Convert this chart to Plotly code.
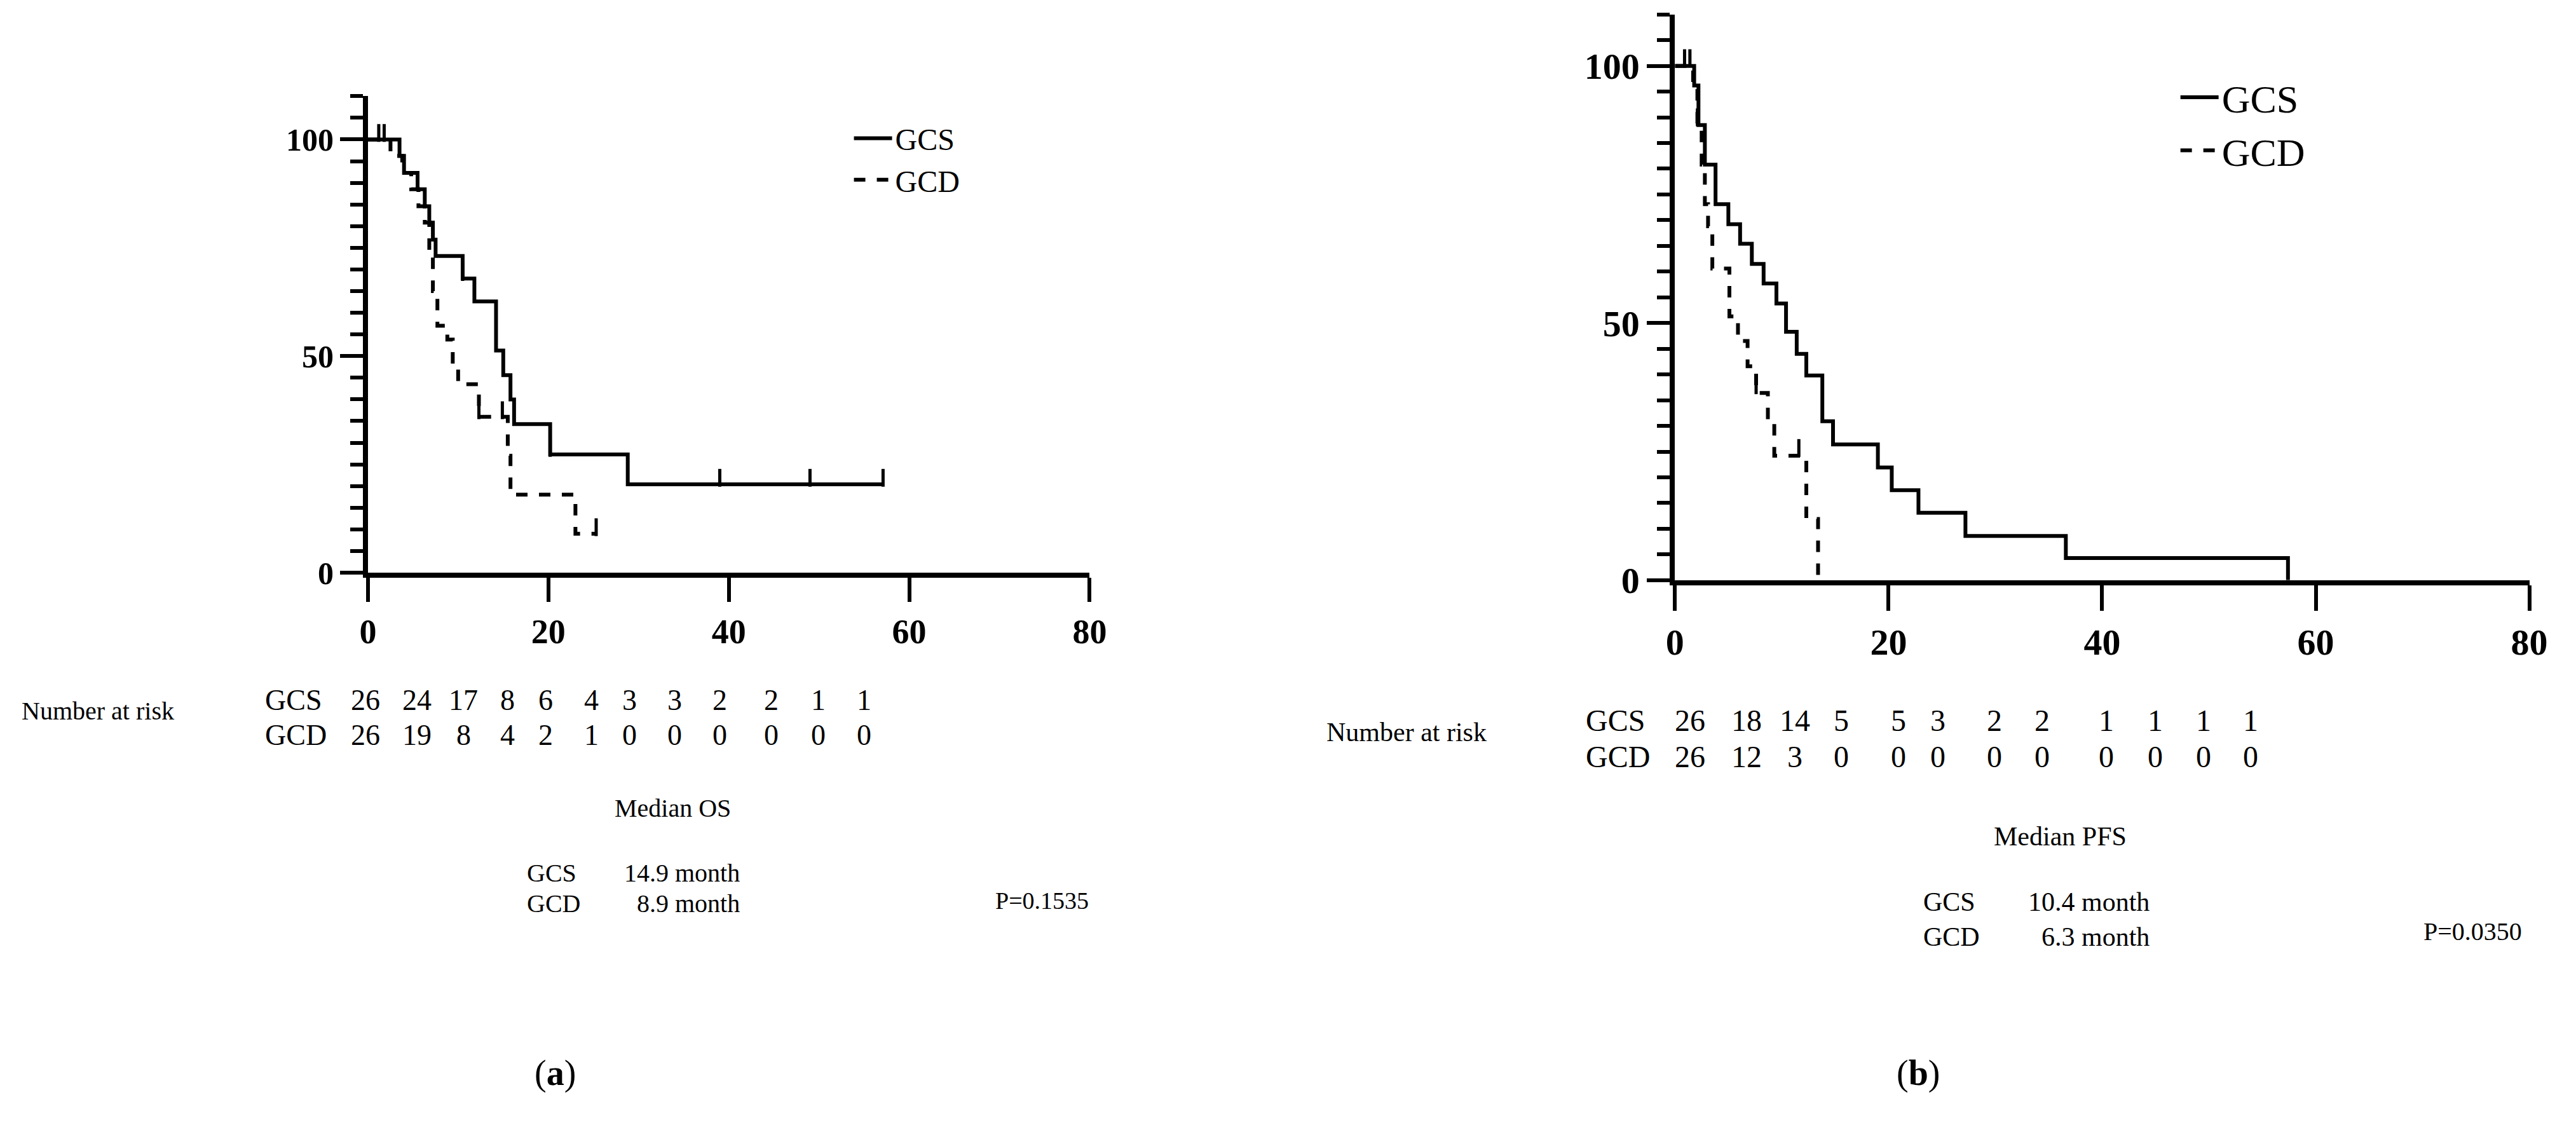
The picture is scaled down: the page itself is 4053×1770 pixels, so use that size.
import plotly.graph_objects as go

# panel (a) overall survival, step points (month, %)
os_gcs_t = [0, 3.5, 4.0, 5.5, 6.3, 6.8, 7.2, 7.5, 10.5, 11.8, 14.2, 15.0, 15.8, 16.2, 20.2, 28.8, 57.1]
os_gcs_s = [100, 96.2, 92.3, 88.5, 84.6, 80.8, 76.9, 73.1, 67.9, 62.6, 51.3, 45.6, 40.0, 34.3, 27.3, 20.4, 20.4]
os_gcd_t = [0, 2.5, 3.8, 4.8, 5.6, 6.3, 6.8, 7.2, 7.7, 8.8, 9.4, 10.0, 12.3, 15.5, 15.8, 23.0, 25.3]
os_gcd_s = [100, 96.2, 92.3, 88.5, 84.6, 80.8, 73.1, 65.0, 57.0, 53.8, 48.0, 43.5, 36.0, 27.0, 18.0, 9.0, 9.0]
os_gcs_cens = [1.2, 10.5, 20.2, 39, 49, 57.1]
os_gcd_cens = [1.8, 12.3, 14.9, 25.3]

# panel (b) progression-free survival
pfs_gcs_t = [0, 1.8, 2.2, 2.8, 3.8, 5.0, 6.1, 7.2, 8.3, 9.5, 10.4, 11.4, 12.3, 13.8, 14.8, 19.0, 20.3, 22.8, 27.2, 36.6, 57.4]
pfs_gcs_s = [100, 96.2, 88.5, 80.8, 73.1, 69.2, 65.4, 61.5, 57.7, 53.8, 48.3, 44.0, 39.8, 30.9, 26.4, 21.9, 17.5, 13.1, 8.6, 4.3, 0]
pfs_gcd_t = [0, 1.7, 2.1, 2.5, 2.8, 3.1, 3.5, 5.1, 5.9, 6.8, 7.6, 8.7, 9.3, 12.3, 13.4]
pfs_gcd_s = [100, 96.2, 88.5, 80.8, 73.1, 68.8, 60.6, 51.3, 46.5, 41.6, 36.4, 30.9, 24.2, 11.9, 0]
pfs_gcs_cens = [0.9, 1.4, 7.2, 9.5]
pfs_gcd_cens = [2.1, 7.6, 11.6]

# number at risk tables (label positions in months)
os_risk_x = [-0.3, 5.4, 10.6, 15.5, 19.7, 24.8, 29.0, 34.0, 39.0, 44.7, 49.9, 55.0]
os_risk_gcs = [26, 24, 17, 8, 6, 4, 3, 3, 2, 2, 1, 1]
os_risk_gcd = [26, 19, 8, 4, 2, 1, 0, 0, 0, 0, 0, 0]
pfs_risk_x = [1.4, 6.7, 11.2, 15.6, 20.9, 24.6, 29.9, 34.4, 40.4, 45.0, 49.5, 53.9]
pfs_risk_gcs = [26, 18, 14, 5, 5, 3, 2, 2, 1, 1, 1, 1]
pfs_risk_gcd = [26, 12, 3, 0, 0, 0, 0, 0, 0, 0, 0, 0]

W, H = 4053, 1770
SERIF = "Liberation Serif"
A_X0, A_X1 = 562, 1710
B_X0, B_X1 = 2641, 4000


def step_at(ts, ss, x):
    val = ss[0]
    for t, s in zip(ts, ss):
        if t <= x:
            val = s
    return val


def px(x):
    return x / W


def py(y):
    return 1 - y / H


fig = go.Figure()

panels = [
    ("x", "y", "legend", os_gcs_t, os_gcs_s, os_gcd_t, os_gcd_s, os_gcs_cens, os_gcd_cens),
    ("x2", "y2", "legend2", pfs_gcs_t, pfs_gcs_s, pfs_gcd_t, pfs_gcd_s, pfs_gcs_cens, pfs_gcd_cens),
]
for xa, ya, lg, gt, gs, dt, ds, gc, dc in panels:
    fig.add_trace(go.Scatter(x=gt, y=gs, mode="lines", name="GCS", xaxis=xa, yaxis=ya, legend=lg,
                             line=dict(color="black", width=6, shape="hv")))
    fig.add_trace(go.Scatter(x=dt, y=ds, mode="lines", name="GCD", xaxis=xa, yaxis=ya, legend=lg,
                             line=dict(color="black", width=6, shape="hv", dash="dash")))
    for ts, ss, cx in [(gt, gs, gc), (dt, ds, dc)]:
        fig.add_trace(go.Scatter(x=cx, y=[step_at(ts, ss, c) + 1.5 for c in cx], mode="markers",
                                 xaxis=xa, yaxis=ya, showlegend=False, cliponaxis=False,
                                 marker=dict(symbol="line-ns", size=20, line=dict(color="black", width=5))))

axis_common = dict(showline=True, linecolor="black", linewidth=8, showgrid=False, zeroline=False,
                   ticks="outside", tickcolor="black", tickwidth=6)
fig.update_layout(
    width=W, height=H, margin=dict(l=0, r=0, t=0, b=0),
    paper_bgcolor="white", plot_bgcolor="white",
    font=dict(family=SERIF, color="black"),
    xaxis=dict(axis_common, domain=[px(A_X0), px(A_X1)], range=[0, 80], dtick=20, ticklen=38,
               anchor="y", tickfont=dict(size=54, weight="bold")),
    yaxis=dict(axis_common, domain=[py(910), py(146)], range=[0, 110], tickvals=[0, 50, 100], ticklen=36,
               anchor="x", tickfont=dict(size=50, weight="bold"),
               minor=dict(dtick=5, ticklen=20, tickwidth=6, tickcolor="black", ticks="outside")),
    xaxis2=dict(axis_common, domain=[px(B_X0), px(B_X1)], range=[0, 80], dtick=20, ticklen=40,
                anchor="y2", tickfont=dict(size=58, weight="bold")),
    yaxis2=dict(axis_common, domain=[py(922), py(15)], range=[0, 110], tickvals=[0, 50, 100], ticklen=36,
                anchor="x2", tickfont=dict(size=58, weight="bold"),
                minor=dict(dtick=5, ticklen=20, tickwidth=6, tickcolor="black", ticks="outside")),
    legend=dict(x=px(1330), y=py(175), xanchor="left", yanchor="top", bgcolor="rgba(0,0,0,0)",
                font=dict(size=48), tracegroupgap=0, itemwidth=60),
    legend2=dict(x=px(3440), y=py(100), xanchor="left", yanchor="top", bgcolor="rgba(0,0,0,0)",
                 font=dict(size=62), tracegroupgap=0, itemwidth=60),
)

ann = []


def txt(x, y, s, size, anchor="center"):
    ann.append(dict(x=x, y=y, xref="paper", yref="paper", text=s,
                    showarrow=False, xanchor=anchor, yanchor="middle", font=dict(size=size, family=SERIF)))


# risk tables
for xs, gcs, gcd, x0, x1, row1, row2, lab_x, nar_x, nar_y, size in [
    (os_risk_x, os_risk_gcs, os_risk_gcd, A_X0, A_X1, 1114, 1170, 396, 9, 1132, 46),
    (pfs_risk_x, pfs_risk_gcs, pfs_risk_gcd, B_X0, B_X1, 1147, 1205, 2497, 2085, 1166, 48),
]:
    txt(px(nar_x), py(nar_y), "Number at risk", size - 6, anchor="left")
    txt(px(lab_x), py(row1), "GCS", size, anchor="left")
    txt(px(lab_x), py(row2), "GCD", size, anchor="left")
    for xv, a, b in zip(xs, gcs, gcd):
        xp = px(x0 + xv * (x1 - x0) / 80)
        txt(xp, py(row1), str(a), size)
        txt(xp, py(row2), str(b), size)

# medians and p-values
txt(px(1047), py(1288), "Median OS", 40)
txt(px(813), py(1391), "GCS", 40, anchor="left")
txt(px(813), py(1440), "GCD", 40, anchor="left")
txt(px(1156), py(1391), "14.9 month", 40, anchor="right")
txt(px(1156), py(1440), "8.9 month", 40, anchor="right")
txt(px(1711), py(1436), "P=0.1535", 38, anchor="right")

txt(px(3254), py(1333), "Median PFS", 42)
txt(px(3034), py(1438), "GCS", 42, anchor="left")
txt(px(3034), py(1494), "GCD", 42, anchor="left")
txt(px(3398), py(1438), "10.4 month", 42, anchor="right")
txt(px(3398), py(1494), "6.3 month", 42, anchor="right")
txt(px(3990), py(1485), "P=0.0350", 40, anchor="right")

txt(px(860), py(1712), "(<b>a</b>)", 56)
txt(px(3028), py(1712), "(<b>b</b>)", 56)
fig.update_layout(annotations=ann)

fig.write_html("out.html")
